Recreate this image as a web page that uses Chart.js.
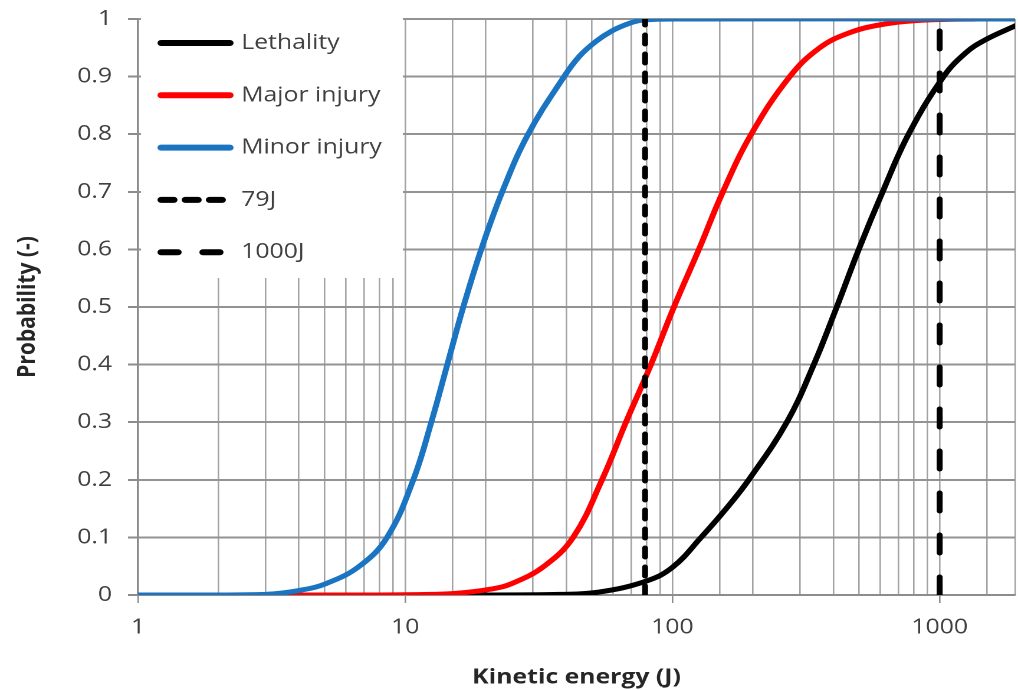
<!DOCTYPE html>
<html>
<head>
<meta charset="utf-8">
<script src="https://cdn.jsdelivr.net/npm/chart.js@4.4.1/dist/chart.umd.min.js"></script>
<style>
  html, body { margin: 0; padding: 0; background: #fff; overflow: hidden; }
  #wrap { height: 690px; position: relative; transform-origin: 0 0; }
</style>
</head>
<body>
<div id="wrap"><canvas id="injury-chart"></canvas></div>
<script>
'use strict';

// 致死・重傷・軽傷の確率曲線（運動エネルギー[J]に対する確率）
const energyLethality = [1, 20, 38, 53, 79.6, 100, 128, 159, 193, 268, 338, 412, 498, 612, 765, 1034, 1250, 1484, 1937, 2000];
const probLethality   = [0, 0, 0.001, 0.005, 0.024, 0.048, 0.1, 0.15, 0.2, 0.3, 0.4, 0.5, 0.6, 0.7, 0.8, 0.9, 0.941, 0.964, 0.989, 0.99];

const energyMajor = [1, 8, 12.4, 15.7, 20.8, 25.1, 33.1, 42.5, 54.5, 67.0, 83.1, 101.3, 125.6, 154.5, 197.2, 274.8, 355.8, 452.8, 601.4, 870.6, 1398, 2000];
const probMajor   = [0, 0, 0.001, 0.003, 0.01, 0.02, 0.05, 0.1, 0.2, 0.3, 0.4, 0.5, 0.6, 0.7, 0.8, 0.9, 0.95, 0.975, 0.99, 0.998, 1, 1];

const energyMinor = [1, 2, 3, 4.02, 5.07, 6.74, 8.55, 10.72, 12.52, 14.37, 16.49, 19.25, 23.07, 28.84, 39.3, 44.8, 51.7, 59.2, 68.6, 77, 105, 2000];
const probMinor   = [0, 0, 0.001, 0.008, 0.02, 0.05, 0.1, 0.2, 0.3, 0.4, 0.5, 0.6, 0.7, 0.8, 0.9, 0.935, 0.961, 0.979, 0.992, 0.998, 1, 1];

// 基準エネルギー（縦の破線）
const markerEnergies = [79, 1000];
const markerLabels = ['79J', '1000J'];

const seriesLabels = ['Lethality', 'Major injury', 'Minor injury'];
const seriesColors = ['#000000', '#ff0000', '#1a74c2'];

const xTickValues = [1, 10, 100, 1000];
const xMin = 1;
const xMax = 1915;

// 横方向に引き伸ばした版面（幅 1018px に合わせる）
const pageWidth = 1018;
const plotWidth = 863;
const stretchX = pageWidth / plotWidth;

const textColor = '#404040';
const gridColor = '#a3a3a3';
const fontFamily = '"Open Sans", Lato, sans-serif';

const wrap = document.getElementById('wrap');
wrap.style.width = plotWidth + 'px';
wrap.style.transform = 'scaleX(' + stretchX + ')';

function toPoints(xs, ys) {
  return xs.map((x, i) => ({ x: x, y: ys[i] }));
}

function isDecade(v) {
  return xTickValues.some(t => Math.abs(v - t) < 1e-6 * t);
}

const curveDatasets = [
  [energyLethality, probLethality],
  [energyMajor, probMajor],
  [energyMinor, probMinor],
].map((pair, i) => ({
  label: seriesLabels[i],
  data: toPoints(pair[0], pair[1]),
  borderColor: seriesColors[i],
  borderWidth: 5,
  pointRadius: 0,
  tension: 0.4,
  order: 3 - i,            // 軽傷を一番上に描く
  legendDash: [],
}));

// 破線の間隔（グラフ上 / 凡例上）
const markerDash = [[9, 10], [18, 24]];
const markerLegendDash = [[11, 9.5], [14.5, 21]];

const markerDatasets = markerEnergies.map((e, i) => ({
  label: markerLabels[i],
  data: [{ x: e, y: 0 }, { x: e, y: 1 }],
  borderColor: '#000000',
  borderWidth: 5,
  borderDash: markerDash[i],
  borderCapStyle: 'round',
  pointRadius: 0,
  order: 0,
  legendDash: markerLegendDash[i],
}));

// 凡例：左上の白い枠の中に描く
const insideLegend = {
  id: 'insideLegend',
  beforeDatasetsDraw(chart) {
    const { ctx, chartArea } = chart;
    const left = chartArea.left;
    ctx.save();
    ctx.fillStyle = '#ffffff';
    ctx.fillRect(left + 2.5, chartArea.top - 8, 222, 267);
    ctx.font = '21px ' + fontFamily;
    ctx.textBaseline = 'middle';
    ctx.textAlign = 'left';
    chart.data.datasets.forEach((ds, i) => {
      const y = chartArea.top + 24 + i * 52.3;
      ctx.strokeStyle = ds.borderColor;
      ctx.lineWidth = 6;
      ctx.lineCap = 'round';
      ctx.setLineDash(ds.legendDash);
      ctx.beginPath();
      ctx.moveTo(left + 19.5, y);
      ctx.lineTo(left + 78, y);
      ctx.stroke();
      ctx.fillStyle = textColor;
      ctx.fillText(ds.label, left + 87.5, y);
    });
    ctx.restore();
  }
};

const ctx = document.getElementById('injury-chart').getContext('2d');
new Chart(ctx, {
  type: 'line',
  data: { datasets: curveDatasets.concat(markerDatasets) },
  options: {
    responsive: true,
    maintainAspectRatio: false,
    animation: false,
    devicePixelRatio: 2,
    layout: { padding: { top: 19, right: 0, bottom: 0, left: 0 } },
    plugins: {
      legend: { display: false },
      tooltip: { enabled: false },
    },
    scales: {
      x: {
        type: 'logarithmic',
        min: xMin,
        max: xMax,
        afterFit(scale) {
          scale.height = 95;
          scale.paddingLeft = 0;
          scale.paddingRight = 0;
        },
        grid: {
          color: gridColor,
          lineWidth: 1.3,
          tickLength: 8,
          tickColor: c => (c.tick && isDecade(c.tick.value)) ? '#8c8c8c' : 'rgba(0,0,0,0)',
        },
        border: { color: '#8c8c8c', width: 1.7 },
        ticks: {
          autoSkip: false,
          maxRotation: 0,
          padding: 12,
          color: textColor,
          font: { family: fontFamily, size: 21 },
          callback: v => isDecade(v) ? String(Math.round(v)) : '',
        },
        title: {
          display: true,
          text: 'Kinetic energy (J)',
          color: '#262626',
          font: { family: fontFamily, size: 21, weight: 'bold' },
          padding: { top: 0, bottom: 0 },
        },
      },
      y: {
        min: 0,
        max: 1,
        afterFit(scale) {
          scale.width = 138 / stretchX;
          scale.paddingTop = 0;
          scale.paddingBottom = 0;
        },
        grid: { color: '#939393', lineWidth: 2, tickLength: 8.5, tickColor: '#8c8c8c' },
        border: { color: '#8c8c8c', width: 1.7 },
        ticks: {
          stepSize: 0.1,
          padding: 13.5,
          color: textColor,
          font: { family: fontFamily, size: 21 },
          callback: v => String(Math.round(v * 10) / 10),
        },
        title: {
          display: true,
          text: 'Probability (-)',
          color: '#262626',
          font: { family: fontFamily, size: 21, weight: 'bold' },
          padding: { top: 11, bottom: 0 },
        },
      },
    },
  },
  plugins: [insideLegend],
});
</script>
</body>
</html>
